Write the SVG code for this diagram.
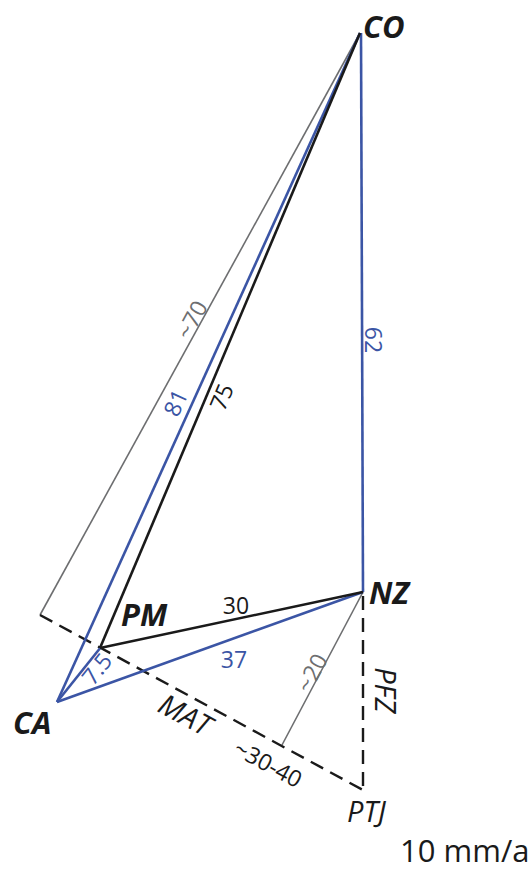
<svg xmlns="http://www.w3.org/2000/svg" width="531" height="872" viewBox="0 0 531 872">
<style>
.blue{stroke:#3b55a5;stroke-width:2.6;fill:none}
.black{stroke:#1a1a1a;stroke-width:2.6;fill:none}
.gray{stroke:#6d6e70;stroke-width:1.6;fill:none}
.dash{stroke:#1a1a1a;stroke-width:2.4;fill:none;stroke-dasharray:14 8}
text{font-family:"Open Sans","Noto Sans",sans-serif}
.node{font-weight:bold;font-style:italic;font-size:31px;fill:#1a1a1a}
.lbl{font-style:italic;font-size:29px;fill:#1a1a1a}
.num{font-size:23px;text-anchor:middle}
.nb{fill:#3b55a5}.nk{fill:#1a1a1a}.ng{fill:#6d6e70}
</style>
<rect width="531" height="872" fill="#fff"/>
<g id="connectors">
<polyline class="gray" points="360,33 40,615"/>
<line class="gray" x1="363" y1="592" x2="282" y2="745"/>
<polyline class="dash" points="40,615 363,790"/>
<line class="dash" x1="363" y1="596" x2="363" y2="790"/>
<line class="blue" x1="361" y1="33" x2="363" y2="592"/>
<line class="blue" x1="360" y1="33" x2="57" y2="702"/>
<line class="blue" x1="363" y1="592" x2="57" y2="702"/>
<line class="blue" x1="57" y1="702" x2="101" y2="647"/>
<line class="black" x1="360" y1="33" x2="100" y2="648"/>
<line class="black" x1="100" y1="648" x2="363" y2="592"/>
<text class="num ng" transform="translate(192,320) rotate(-61)" dy="8">~70</text>
<text class="num nb" transform="translate(176,403) rotate(-65.6)" dy="8">81</text>
<text class="num nk" transform="translate(222,397) rotate(-67)" dy="8">75</text>
<text class="num nb" transform="translate(373,340) rotate(90)" dy="8">62</text>
<text class="num nk" x="236" y="614">30</text>
<text class="num nb" x="234" y="668">37</text>
<text class="num nb" transform="translate(97,669) rotate(-51.5)" dy="8">7.5</text>
<text class="num ng" transform="translate(312,673) rotate(-62)" dy="8">~20</text>
<text class="num nk" transform="translate(268,764) rotate(28.5)" dy="8">~30-40</text>
<text class="lbl" text-anchor="middle" transform="translate(185,715) rotate(28.5)" dy="10">MAT</text>
<text class="lbl" text-anchor="middle" transform="translate(385,690) rotate(90)" dy="10">PFZ</text>
</g>
<g id="CO"><text class="node" x="363" y="38">CO</text></g>
<g id="NZ"><text class="node" x="369" y="604">NZ</text></g>
<g id="PM"><text class="node" x="121" y="626">PM</text></g>
<g id="CA"><text class="node" x="13" y="734">CA</text></g>
<g id="PTJ"><text class="lbl" x="347" y="822">PTJ</text></g>
<g id="scale"><text x="400" y="862" font-size="31" fill="#1a1a1a">10 mm/a</text></g>
</svg>
